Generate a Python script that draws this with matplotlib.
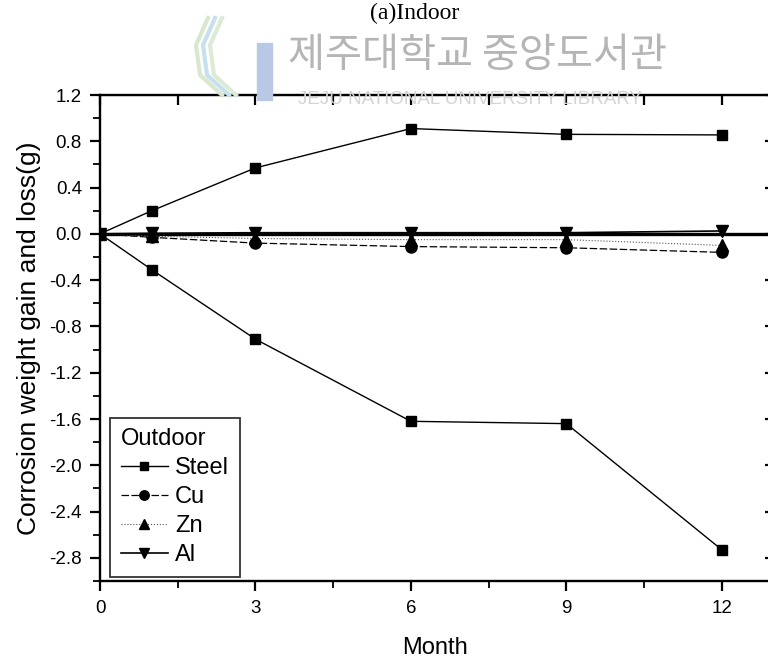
import matplotlib
matplotlib.use("Agg")
import matplotlib.pyplot as plt
from matplotlib.patches import Rectangle
from matplotlib.ticker import MultipleLocator

# Exposure time (months)
months = [0, 1, 3, 6, 9, 12]

# Weight change (g) per metal
steel_gain = [0.0, 0.20, 0.57, 0.91, 0.86, 0.855]
steel_loss = [0.0, -0.31, -0.91, -1.62, -1.64, -2.73]
cu = [0.0, -0.03, -0.08, -0.11, -0.12, -0.16]
zn = [0.0, -0.02, -0.04, -0.05, -0.05, -0.10]
al = [0.0, 0.005, 0.01, 0.01, 0.01, 0.025]

y_ticks = [1.2, 0.8, 0.4, 0.0, -0.4, -0.8, -1.2, -1.6, -2.0, -2.4, -2.8]
y_tick_labels = ["1.2", "0.8", "0.4", "0.0", "-0.4", "-0.8", "-1.2", "-1.6",
                 "-2.0", "-2.4", "-2.8"]
x_ticks = [0, 3, 6, 9, 12]

W, H = 768, 659
fig = plt.figure(figsize=(W / 100, H / 100), dpi=100)
plt.rcParams["font.family"] = ["Liberation Sans", "DejaVu Sans"]

# axes box in pixel coordinates
x0, x1 = 100, 771
y_top, y_bot = 95, 581
ax = fig.add_axes([x0 / W, 1 - y_bot / H, (x1 - x0) / W, (y_bot - y_top) / H])
ax.set_xlim(0, 12.95)
ax.set_ylim(-3.0, 1.2)

# library watermark behind the plot
fig.text(477 / W, 1 - 55 / H, "제주대학교 중앙도서관", ha="center", va="center",
         fontsize=29, color="#b5b5b5", family=["Noto Sans CJK KR", "DejaVu Sans"],
         zorder=0)
fig.text(470 / W, 1 - 99 / H, "JEJU NATIONAL UNIVERSITY LIBRARY", ha="center",
         va="center", fontsize=13.5, color="#d4d4d4", zorder=0)
fig.patches.append(Rectangle((257 / W, 1 - 100 / H), 15 / W, 57 / H,
                             transform=fig.transFigure, color="#b9c8e4",
                             zorder=0))
for dx, col in [(0, "#d8e8cf"), (7, "#c6e0ee"), (14, "#dcebd6")]:
    fig.lines.append(plt.Line2D([(208 + dx) / W, (196 + dx) / W, (200 + dx) / W, (222 + dx) / W],
                                [1 - 18 / H, 1 - 45 / H, 1 - 75 / H, 1 - 95 / H],
                                transform=fig.transFigure, color=col, lw=3,
                                zorder=0))

ax.patch.set_alpha(0)

# figure caption at the top
fig.text(415 / W, 1 - 19 / H, "(a)Indoor", ha="center", va="baseline",
         fontsize=17, family=["Liberation Serif", "DejaVu Serif"])

# zero reference line
ax.axhline(0, color="black", lw=2.4, zorder=2)

ax.plot(months, steel_gain, color="black", lw=1.0, marker="s", ms=7,
        zorder=4)
h_steel, = ax.plot(months, steel_loss, color="black", lw=1.0, marker="s",
                   ms=7, zorder=4, label="Steel")
h_cu, = ax.plot(months, cu, color="black", lw=0.9, ls=(0, (6, 2)),
                marker="o", ms=8, zorder=3, label="Cu")
h_zn, = ax.plot(months, zn, color="#555555", lw=0.8, ls=":", marker="^",
                mfc="black", mec="black", ms=8, zorder=3, label="Zn")
h_al, = ax.plot(months, al, color="black", lw=1.2, marker="v", ms=8,
                zorder=3, label="Al")

# ticks: outward on left/bottom, inward on top/right
ax.set_xticks(x_ticks)
ax.set_xticklabels([str(t) for t in x_ticks])
ax.xaxis.set_minor_locator(MultipleLocator(1.5))
ax.set_yticks(y_ticks)
ax.set_yticklabels(y_tick_labels)
ax.yaxis.set_minor_locator(MultipleLocator(0.2))
ax.tick_params(which="major", direction="out", length=7, width=1.6,
               labelsize=13.5)
ax.tick_params(axis="y", which="major", pad=6)
ax.tick_params(axis="x", which="major", pad=7)
ax.tick_params(which="minor", direction="out", length=5, width=1.3)
for s in ax.spines.values():
    s.set_linewidth(1.7)

top = ax.secondary_xaxis("top")
top.set_xticks(x_ticks)
top.xaxis.set_minor_locator(MultipleLocator(1.5))
top.tick_params(which="both", direction="in", labeltop=False, width=1.6,
                length=7)
right = ax.secondary_yaxis("right")
right.set_yticks(y_ticks)
right.tick_params(which="major", direction="in", labelright=False, width=1.6,
                  length=4)

ax.set_xlabel("Month", fontsize=17, labelpad=14)
ax.set_ylabel("Corrosion weight gain and loss(g)", fontsize=19, labelpad=6)

leg = ax.legend(handles=[h_steel, h_cu, h_zn, h_al], title="Outdoor",
                loc="lower left", bbox_to_anchor=(0.015, 0.008),
                fontsize=17, title_fontsize=17, frameon=True, fancybox=False,
                edgecolor="black", handlelength=2.0, handletextpad=0.3,
                labelspacing=0.3, borderpad=0.45, borderaxespad=0,
                markerscale=0.85)
leg.get_frame().set_linewidth(1.3)
leg._legend_box.align = "left"

fig.savefig("out.png", dpi=100)
